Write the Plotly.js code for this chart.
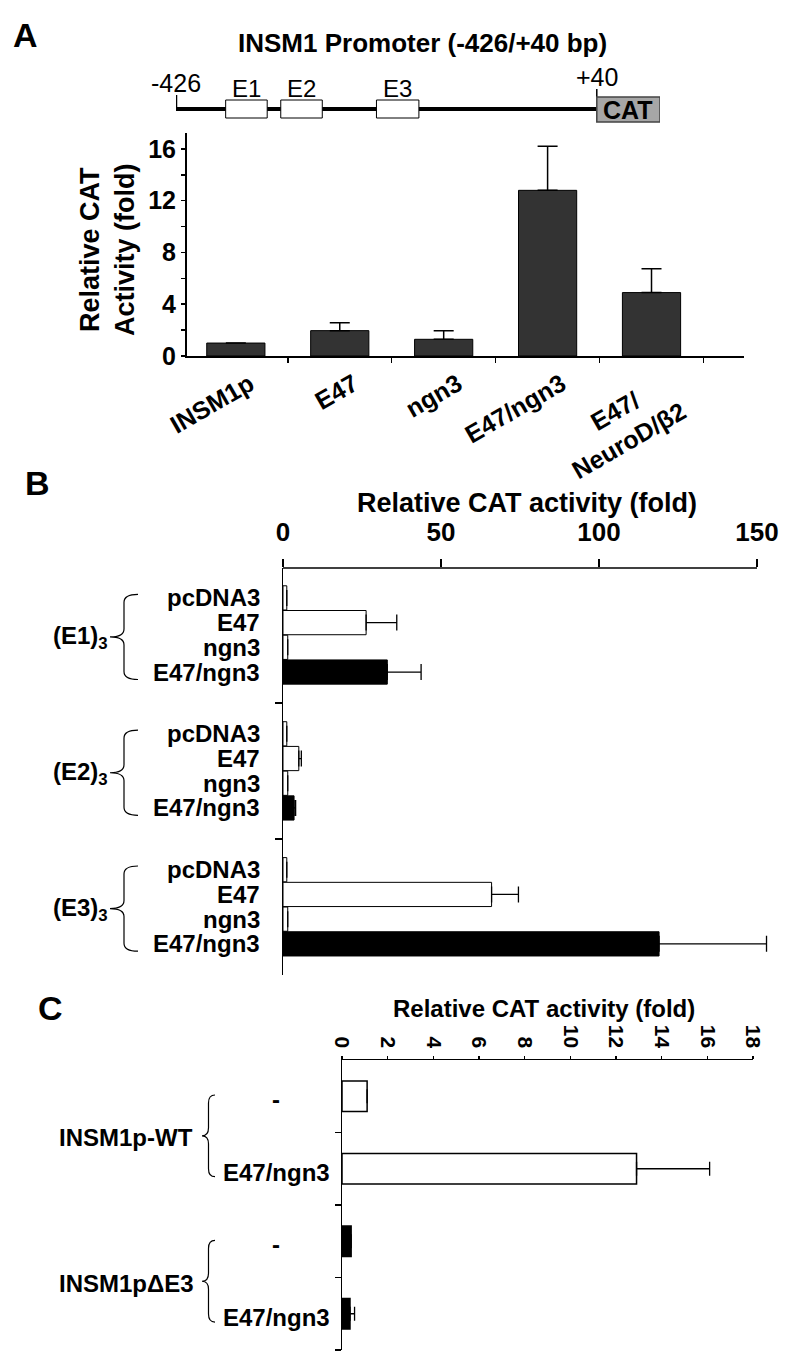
<!DOCTYPE html>
<html>
<head>
<meta charset="utf-8">
<script src="https://cdn.plot.ly/plotly-3.0.1.min.js"></script>
<style>
  html, body { margin: 0; padding: 0; background: #fff; }
  #chart { width: 800px; height: 1362px; }
</style>
</head>
<body>
<div id="chart"></div>
<script>
// ---- data --------------------------------------------------------------
// panel A : INSM1 promoter, bar chart
var catsA  = ['INSM1p', 'E47', 'ngn3', 'E47/ngn3', 'E47/NeuroD/β2'];
var ticksA = ['INSM1p', 'E47', 'ngn3', 'E47/ngn3', 'E47/\u00a0\u00a0\u00a0\u00a0\u00a0<br>NeuroD/β2'];
var valsA  = [1.0, 1.96, 1.29, 12.8, 4.9];
var errA   = [0, 0.6, 0.67, 3.4, 1.85];

// promoter schematic (bp)
var promStart = -426, promEnd = 40, catEnd = 110;
var eboxNames = ['E1', 'E2', 'E3'];
var eboxStart = [-371, -310, -204];
var eboxEnd   = [-325, -264, -157];

// panel B : multimerised E-boxes
var groupsB = ['(E1)<sub>3</sub>', '(E2)<sub>3</sub>', '(E3)<sub>3</sub>'];
var rowsB   = ['pcDNA3', 'E47', 'ngn3', 'E47/ngn3'];
var valsE1 = [1.2, 26.3, 1.5, 33];
var errE1  = [0, 9.7, 0, 10.7];
var valsE2 = [1.2, 5.0, 1.5, 3.5];
var errE2  = [0, 0.8, 0, 0.5];
var valsE3 = [1.2, 66, 1.5, 119];
var errE3  = [0, 8.5, 0, 34];

// panel C : WT vs deltaE3 promoter
var groupsC = ['INSM1p-WT', 'INSM1pΔE3'];
var rowsC   = ['-', 'E47/ngn3', '-', 'E47/ngn3'];
var valsC   = [1.1, 12.9, 0.4, 0.35];
var errC    = [0, 3.2, 0, 0.2];

// ---- helpers -----------------------------------------------------------
var W = 800, H = 1362;
function fx(x) { return x / W; }
function fy(y) { return 1 - y / H; }
var FONT = 'Liberation Sans, Arial, sans-serif';
function bold(size) { return { family: FONT, size: size, color: '#000', weight: 'bold' }; }
function plain(size) { return { family: FONT, size: size, color: '#000' }; }

var annotations = [];
function ann(o) {
  if (!o.xref) o.xref = 'paper';
  if (!o.yref) o.yref = 'paper';
  if (!o.xanchor) o.xanchor = 'center';
  if (!o.yanchor) o.yanchor = 'middle';
  o.showarrow = false;
  annotations.push(o);
}

function bracePath(xr, xt, y0, y1) {
  var xm = (xr + xt) / 2, ym = (y0 + y1) / 2, r = Math.min(8, (y1 - y0) / 4);
  var p = function (x, y) { return fx(x).toFixed(5) + ',' + fy(y).toFixed(5); };
  return 'M' + p(xr, y0) + ' Q' + p(xm, y0) + ' ' + p(xm, y0 + r) +
         ' L' + p(xm, ym - r) + ' Q' + p(xm, ym) + ' ' + p(xt, ym) +
         ' Q' + p(xm, ym) + ' ' + p(xm, ym + r) +
         ' L' + p(xm, y1 - r) + ' Q' + p(xm, y1) + ' ' + p(xr, y1);
}

// ---- panel B layout in row units ----
var groupStep = 5.5;
var posB = [], valsB = [], errB = [], colB = [];
[valsE1, valsE2, valsE3].forEach(function (vals, g) {
  var errs = [errE1, errE2, errE3][g];
  vals.forEach(function (v, r) {
    posB.push(g * groupStep + r);
    valsB.push(v);
    errB.push(errs[r]);
    colB.push(r === 3 ? '#000' : '#fff');
  });
});
// pixel mapping of yaxis2 (used for braces only)
var b0 = 598, pitch = 24.7;
function byPx(v) { return b0 + v * pitch; }

var traces = [
  { type: 'bar', x: catsA, y: valsA, xaxis: 'x', yaxis: 'y', width: 0.56,
    marker: { color: '#333', line: { color: '#000', width: 1 } },
    error_y: { type: 'data', symmetric: false, array: errA, arrayminus: errA.map(function () { return 0; }),
               color: '#000', thickness: 1.5, width: 10 } },
  { type: 'bar', orientation: 'h', x: valsB, y: posB, xaxis: 'x2', yaxis: 'y2', width: 0.98,
    marker: { color: colB, line: { color: '#000', width: 1 } },
    error_x: { type: 'data', symmetric: false, array: errB, arrayminus: errB.map(function () { return 0; }),
               color: '#000', thickness: 1.3, width: 8 } },
  { type: 'bar', orientation: 'h', x: valsC, y: [0, 1, 2, 3], xaxis: 'x3', yaxis: 'y3', width: 0.42,
    marker: { color: ['#fff', '#fff', '#000', '#000'], line: { color: '#000', width: 1.5 } },
    error_x: { type: 'data', symmetric: false, array: errC, arrayminus: errC.map(function () { return 0; }),
               color: '#000', thickness: 1.3, width: 7 } },
  { type: 'scatter', mode: 'none', x: eboxStart, y: [0.5, 0.5, 0.5], xaxis: 'x4', yaxis: 'y4', hoverinfo: 'skip' }
];

var shapes = [];

// promoter schematic
shapes.push({ type: 'line', xref: 'x4', yref: 'paper', x0: promStart, x1: promEnd, y0: fy(109), y1: fy(109),
              line: { color: '#000', width: 4 } });
shapes.push({ type: 'line', xref: 'x4', yref: 'paper', x0: promStart, x1: promStart, y0: fy(95), y1: fy(110),
              line: { color: '#000', width: 2.5 } });
shapes.push({ type: 'line', xref: 'x4', yref: 'paper', x0: promEnd, x1: promEnd, y0: fy(89), y1: fy(97),
              line: { color: '#000', width: 1.5 } });
eboxNames.forEach(function (n, i) {
  shapes.push({ type: 'rect', xref: 'x4', yref: 'paper', x0: eboxStart[i], x1: eboxEnd[i], y0: fy(118), y1: fy(100),
                fillcolor: '#fff', line: { color: '#000', width: 1 } });
  ann({ xref: 'x4', x: (eboxStart[i] + eboxEnd[i]) / 2, y: fy(89), text: n, font: plain(24) });
});
shapes.push({ type: 'rect', xref: 'x4', yref: 'paper', x0: promEnd, x1: catEnd, y0: fy(122), y1: fy(97),
              fillcolor: '#a6a6a6', line: { color: '#444', width: 1.5 } });
ann({ xref: 'x4', x: (promEnd + catEnd) / 2, y: fy(110), text: 'CAT', font: bold(25) });
ann({ xref: 'x4', x: promStart, y: fy(83), text: '-426', font: plain(25) });
ann({ xref: 'x4', x: promEnd, y: fy(77), text: '+40', font: plain(25) });

// panel letters and titles
ann({ x: fx(25), y: fy(35), text: 'A', font: bold(34) });
ann({ x: fx(37), y: fy(483), text: 'B', font: bold(34) });
ann({ x: fx(50), y: fy(1008), text: 'C', font: bold(34) });
ann({ x: fx(422), y: fy(43), text: 'INSM1 Promoter (-426/+40 bp)', font: bold(26) });
ann({ x: fx(108), y: fy(250), text: 'Relative CAT<br>Activity (fold)', textangle: -90, font: bold(27) });
ann({ x: fx(527), y: fy(503), text: 'Relative CAT activity (fold)', font: bold(27) });
ann({ x: fx(544), y: fy(1008), text: 'Relative CAT activity (fold)', font: bold(24) });

// panel B: top axis line, row labels, braces, group labels
shapes.push({ type: 'line', xref: 'x2', yref: 'paper', x0: 0, x1: 150, y0: fy(568), y1: fy(568),
              line: { color: '#000', width: 1.5 } });
posB.forEach(function (p, i) {
  ann({ yref: 'y2', x: fx(261), xanchor: 'right', y: p, text: rowsB[i % 4], font: bold(24), borderpad: 0 });
});
groupsB.forEach(function (g, k) {
  var top = byPx(k * groupStep - 0.15), bot = byPx(k * groupStep + 3.3);
  shapes.push({ type: 'path', xref: 'paper', yref: 'paper', path: bracePath(138, 110, top, bot),
                line: { color: '#000', width: 1.2 } });
  ann({ yref: 'y2', x: fx(80), y: k * groupStep + 1.6, text: g, font: bold(24) });
});

// panel C: row labels, braces, group labels
rowsC.forEach(function (r, i) {
  ann({ yref: 'y3', x: fx(276), y: i + 0.05, text: r, font: bold(24) });
});
var cRow0 = 1096, cPitch = 72.7;
groupsC.forEach(function (g, k) {
  var top = cRow0 + 2 * k * cPitch - 1, bot = cRow0 + (2 * k + 1) * cPitch + 8;
  shapes.push({ type: 'path', xref: 'paper', yref: 'paper', path: bracePath(215, 202, top, bot),
                line: { color: '#000', width: 1.2 } });
  ann({ x: fx(126), y: fy((top + bot) / 2 + 2), text: g, font: bold(24) });
});

var layout = {
  width: W, height: H,
  margin: { l: 0, r: 0, t: 0, b: 0 },
  paper_bgcolor: '#fff', plot_bgcolor: 'rgba(0,0,0,0)',
  showlegend: false,
  bargap: 0,
  font: { family: FONT, color: '#000' },
  xaxis: {
    domain: [fx(187), fx(744)], anchor: 'y', type: 'category', range: [-0.47, 4.89],
    tickvals: catsA, ticktext: ticksA,
    tickson: 'boundaries', ticks: 'outside', ticklen: 5, tickwidth: 1.5, tickcolor: '#000',
    showline: true, linewidth: 2, linecolor: '#000', showgrid: false, zeroline: false,
    tickangle: -30, tickfont: bold(25), ticklabelshift: 14, ticklabelstandoff: 2
  },
  yaxis: {
    domain: [fy(356), fy(133)], anchor: 'x', range: [0, 17.23], tick0: 0, dtick: 4,
    ticks: 'outside', ticklen: 4, tickwidth: 1.5, tickcolor: '#000',
    minor: { dtick: 2, ticks: 'outside', ticklen: 4, tickwidth: 1.5, tickcolor: '#000' },
    showline: true, linewidth: 2, linecolor: '#000', showgrid: false, zeroline: false,
    tickfont: bold(25)
  },
  xaxis2: {
    domain: [fx(283), fx(776)], anchor: 'y2', side: 'top', range: [0, 156],
    tickvals: [0, 50, 100, 150], ticks: 'outside', ticklen: 8, tickwidth: 1.5, tickcolor: '#000',
    showline: false, showgrid: false, zeroline: false, tickfont: bold(26), ticklabelstandoff: 8
  },
  yaxis2: {
    domain: [fy(975), fy(568)], anchor: 'x2', range: [15.26, -1.21],
    tickvals: [4.25, 9.75], ticks: 'outside', ticklen: 7, tickwidth: 1.5, tickcolor: '#000',
    showticklabels: false, showline: true, linewidth: 1.5, linecolor: '#000', showgrid: false, zeroline: false
  },
  xaxis3: {
    domain: [fx(342), fx(753)], anchor: 'y3', side: 'top', range: [0, 18], dtick: 2, tick0: 0,
    ticks: 'outside', ticklen: 3, tickwidth: 1.5, tickcolor: '#000', tickangle: 90,
    showline: true, linewidth: 1.5, linecolor: '#000', showgrid: false, zeroline: false, tickfont: bold(21)
  },
  yaxis3: {
    domain: [fy(1350), fy(1060)], anchor: 'x3', range: [3.5, -0.5],
    tickvals: [0.5, 1.5, 2.5, 3.5], ticks: 'outside', ticklen: 6, tickwidth: 1.5, tickcolor: '#000',
    showticklabels: false, showline: true, linewidth: 1.5, linecolor: '#000', showgrid: false, zeroline: false
  },
  xaxis4: { domain: [fx(176), fx(660)], anchor: 'y4', range: [promStart, catEnd], visible: false },
  yaxis4: { domain: [fy(130), fy(85)], anchor: 'x4', range: [0, 1], visible: false },
  shapes: shapes,
  annotations: annotations
};

Plotly.newPlot('chart', traces, layout, { staticPlot: true });
</script>
</body>
</html>
